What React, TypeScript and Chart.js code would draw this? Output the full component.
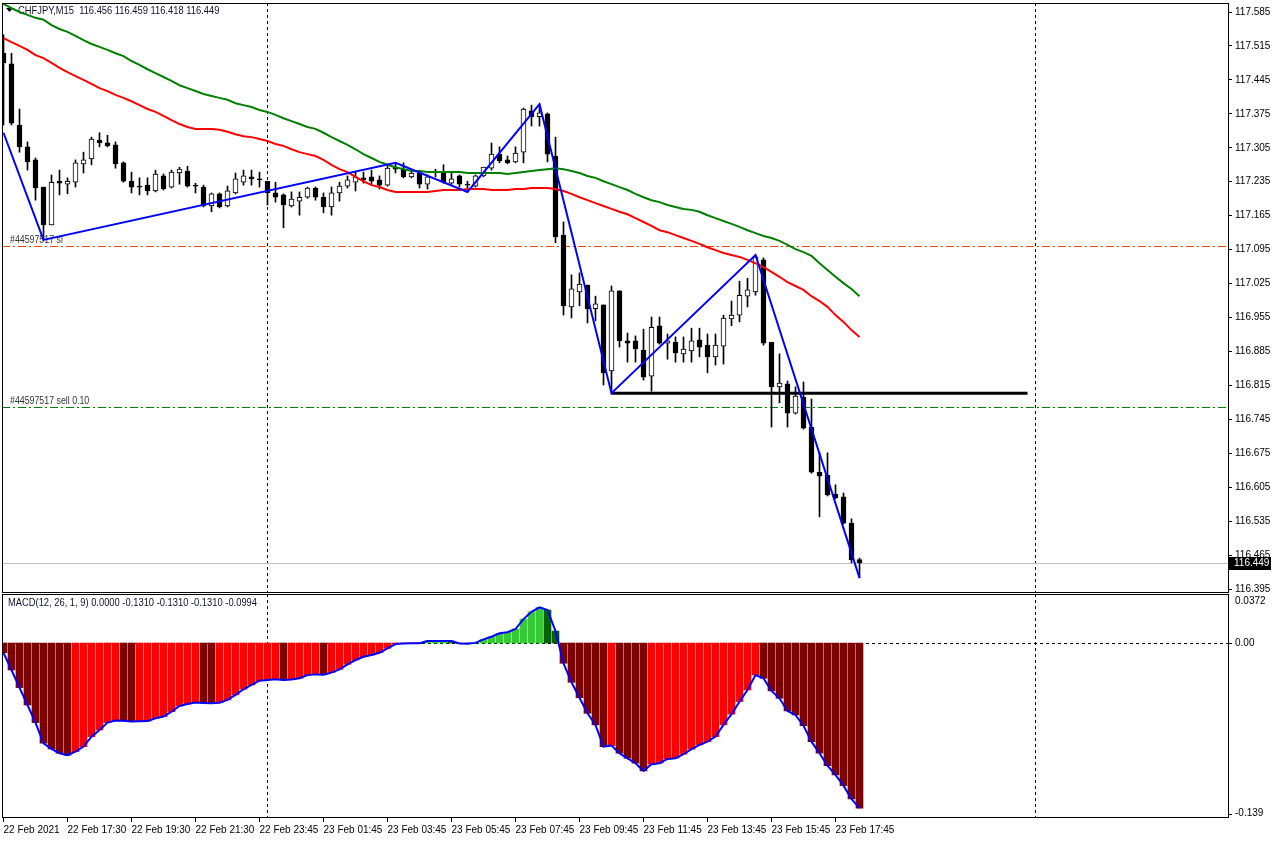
import React, { useEffect, useRef } from 'react';
import { Chart, registerables } from 'chart.js';

Chart.register(...registerables);

const FONT = "'Liberation Sans', Arial, sans-serif";

// ---- Candles (CHFJPY, M15) ----
const opens = [
  117.500, 117.478, 117.352, 117.307, 117.280, 117.224, 117.146, 117.236, 117.230, 117.234,
  117.272, 117.282, 117.321, 117.315, 117.311, 117.274, 117.236, 117.226, 117.228, 117.216,
  117.247, 117.224, 117.253, 117.257, 117.228, 117.224, 117.185, 117.210, 117.185, 117.212,
  117.234, 117.245, 117.241, 117.236, 117.212, 117.208, 117.185, 117.195, 117.203, 117.222,
  117.203, 117.183, 117.212, 117.226, 117.234, 117.243, 117.245, 117.239, 117.228, 117.265,
  117.261, 117.245, 117.253, 117.230, 117.253, 117.253, 117.232, 117.247, 117.229, 117.226,
  117.247, 117.263, 117.292, 117.280, 117.276, 117.296, 117.381, 117.369, 117.375, 117.288,
  117.125, 116.977, 117.008, 117.022, 116.973, 116.981, 116.845, 117.010, 116.907, 116.907,
  116.888, 116.834, 116.938, 116.902, 116.904, 116.880, 116.886, 116.909, 116.898, 116.874,
  116.896, 116.952, 116.960, 116.999, 117.008, 117.074, 116.904, 116.812, 116.818, 116.758,
  116.791, 116.729, 116.636, 116.630, 116.591, 116.585, 116.531, 116.456,
];
const highs = [
  117.538, 117.500, 117.385, 117.317, 117.284, 117.224, 117.249, 117.259, 117.243, 117.280,
  117.296, 117.327, 117.336, 117.331, 117.317, 117.276, 117.255, 117.243, 117.243, 117.259,
  117.251, 117.259, 117.265, 117.267, 117.232, 117.228, 117.212, 117.212, 117.226, 117.253,
  117.259, 117.259, 117.255, 117.236, 117.234, 117.210, 117.214, 117.214, 117.224, 117.224,
  117.212, 117.224, 117.234, 117.247, 117.255, 117.255, 117.259, 117.247, 117.267, 117.274,
  117.274, 117.259, 117.255, 117.249, 117.261, 117.270, 117.253, 117.249, 117.236, 117.249,
  117.265, 117.315, 117.307, 117.288, 117.307, 117.387, 117.393, 117.395, 117.377, 117.327,
  117.152, 117.043, 117.047, 117.022, 116.999, 116.981, 117.020, 117.010, 116.923, 116.917,
  116.931, 116.956, 116.956, 116.921, 116.915, 116.915, 116.933, 116.933, 116.921, 116.921,
  116.960, 116.989, 117.030, 117.036, 117.084, 117.078, 116.904, 116.880, 116.824, 116.812,
  116.822, 116.787, 116.676, 116.676, 116.610, 116.593, 116.540, 116.459,
];
const lows = [
  117.352, 117.352, 117.296, 117.259, 117.197, 117.115, 117.146, 117.208, 117.210, 117.224,
  117.253, 117.270, 117.307, 117.307, 117.263, 117.234, 117.212, 117.208, 117.208, 117.214,
  117.218, 117.222, 117.230, 117.224, 117.212, 117.183, 117.173, 117.181, 117.183, 117.210,
  117.228, 117.228, 117.224, 117.187, 117.193, 117.140, 117.183, 117.166, 117.201, 117.197,
  117.171, 117.166, 117.195, 117.222, 117.216, 117.232, 117.228, 117.220, 117.226, 117.253,
  117.243, 117.243, 117.222, 117.220, 117.245, 117.232, 117.230, 117.224, 117.214, 117.224,
  117.245, 117.259, 117.274, 117.272, 117.274, 117.274, 117.350, 117.350, 117.276, 117.109,
  116.960, 116.954, 116.979, 116.944, 116.948, 116.816, 116.799, 116.894, 116.863, 116.863,
  116.826, 116.803, 116.900, 116.869, 116.863, 116.863, 116.863, 116.874, 116.841, 116.857,
  116.859, 116.938, 116.946, 116.977, 117.001, 116.898, 116.729, 116.779, 116.729, 116.756,
  116.725, 116.634, 116.544, 116.587, 116.581, 116.529, 116.449, 116.418,
];
const closes = [
  117.480, 117.356, 117.307, 117.276, 117.222, 117.146, 117.234, 117.232, 117.236, 117.274,
  117.280, 117.323, 117.315, 117.309, 117.272, 117.236, 117.224, 117.224, 117.216, 117.251,
  117.220, 117.255, 117.261, 117.226, 117.226, 117.185, 117.210, 117.183, 117.216, 117.241,
  117.247, 117.241, 117.239, 117.212, 117.203, 117.187, 117.199, 117.203, 117.222, 117.203,
  117.183, 117.212, 117.226, 117.239, 117.245, 117.239, 117.236, 117.228, 117.263, 117.261,
  117.245, 117.253, 117.230, 117.245, 117.257, 117.234, 117.241, 117.230, 117.228, 117.247,
  117.265, 117.292, 117.278, 117.274, 117.294, 117.385, 117.369, 117.377, 117.292, 117.121,
  116.979, 117.014, 117.024, 116.973, 116.983, 116.841, 117.010, 116.907, 116.902, 116.890,
  116.832, 116.935, 116.902, 116.907, 116.882, 116.890, 116.907, 116.894, 116.874, 116.898,
  116.954, 116.960, 117.001, 117.012, 117.080, 116.902, 116.812, 116.820, 116.758, 116.793,
  116.727, 116.636, 116.628, 116.589, 116.583, 116.531, 116.455, 116.449,
];

// ---- Moving averages ----
const maGreen = [
  117.602, 117.593, 117.585, 117.579, 117.573, 117.569, 117.558, 117.550, 117.544, 117.536,
  117.527, 117.519, 117.513, 117.507, 117.500, 117.494, 117.484, 117.476, 117.467, 117.459,
  117.451, 117.443, 117.434, 117.428, 117.422, 117.416, 117.412, 117.408, 117.404, 117.397,
  117.393, 117.389, 117.383, 117.379, 117.373, 117.366, 117.360, 117.354, 117.348, 117.344,
  117.336, 117.327, 117.319, 117.311, 117.302, 117.292, 117.284, 117.276, 117.270, 117.265,
  117.261, 117.257, 117.257, 117.255, 117.255, 117.255, 117.255, 117.255, 117.253, 117.253,
  117.253, 117.253, 117.253, 117.251, 117.253, 117.255, 117.257, 117.259, 117.261, 117.263,
  117.261, 117.257, 117.253, 117.247, 117.243, 117.236, 117.230, 117.224, 117.218, 117.210,
  117.203, 117.197, 117.193, 117.187, 117.183, 117.179, 117.177, 117.173, 117.166, 117.160,
  117.154, 117.148, 117.142, 117.135, 117.129, 117.123, 117.119, 117.113, 117.105, 117.096,
  117.090, 117.082, 117.067, 117.053, 117.039, 117.026, 117.014, 116.999,
];
const maRed = [
  117.531, 117.523, 117.515, 117.507, 117.496, 117.490, 117.480, 117.470, 117.461, 117.453,
  117.445, 117.437, 117.428, 117.422, 117.414, 117.408, 117.401, 117.393, 117.385, 117.379,
  117.371, 117.362, 117.354, 117.348, 117.344, 117.344, 117.344, 117.342, 117.338, 117.333,
  117.329, 117.327, 117.323, 117.319, 117.313, 117.309, 117.302, 117.296, 117.292, 117.288,
  117.280, 117.270, 117.261, 117.255, 117.245, 117.236, 117.228, 117.224, 117.218, 117.214,
  117.214, 117.214, 117.214, 117.214, 117.216, 117.218, 117.218, 117.218, 117.220, 117.220,
  117.220, 117.218, 117.218, 117.218, 117.220, 117.220, 117.222, 117.222, 117.222, 117.220,
  117.216, 117.210, 117.203, 117.197, 117.191, 117.185, 117.179, 117.173, 117.168, 117.160,
  117.152, 117.144, 117.135, 117.131, 117.125, 117.119, 117.113, 117.107, 117.100, 117.094,
  117.088, 117.084, 117.080, 117.074, 117.067, 117.059, 117.049, 117.039, 117.028, 117.020,
  117.012, 116.999, 116.989, 116.977, 116.960, 116.946, 116.929, 116.915,
];

// ---- ZigZag & objects ----
const zigzagIdx = [0, 5, 49, 58, 67, 76, 94, 107];
const zigzagVal = [117.336, 117.115, 117.274, 117.214, 117.395, 116.799, 117.084, 116.418];
const trendIdx = [76, 128];
const trendVal = [116.799, 116.799];
const slPrice = 117.103;
const sellPrice = 116.770;
const bidPrice = 116.449;
const separatorIdx = [33, 129];

const priceTicks = [
  117.585, 117.515, 117.445, 117.375, 117.305, 117.235, 117.165, 117.095, 117.025,
  116.955, 116.885, 116.815, 116.745, 116.675, 116.605, 116.535, 116.465, 116.395,
];

// ---- MACD ----
const macd = [
  -0.0077, -0.0214, -0.0354, -0.0492, -0.0632, -0.0796, -0.0840, -0.0875, -0.0890, -0.0862,
  -0.0822, -0.0743, -0.0690, -0.0632, -0.0616, -0.0618, -0.0624, -0.0622, -0.0620, -0.0597,
  -0.0584, -0.0545, -0.0500, -0.0484, -0.0473, -0.0476, -0.0478, -0.0474, -0.0452, -0.0412,
  -0.0367, -0.0333, -0.0299, -0.0293, -0.0288, -0.0293, -0.0290, -0.0280, -0.0254, -0.0249,
  -0.0251, -0.0235, -0.0209, -0.0169, -0.0135, -0.0109, -0.0095, -0.0077, -0.0042, -0.0008,
  -0.0003, -0.0002, -0.0001, 0.0016, 0.0016, 0.0016, 0.0015, -0.0003, -0.0005, 0.0001,
  0.0029, 0.0050, 0.0077, 0.0085, 0.0111, 0.0190, 0.0248, 0.0283, 0.0262, 0.0095,
  -0.0161, -0.0312, -0.0434, -0.0558, -0.0650, -0.0822, -0.0814, -0.0875, -0.0915, -0.0954,
  -0.1015, -0.0962, -0.0954, -0.0920, -0.0915, -0.0883, -0.0843, -0.0809, -0.0783, -0.0743,
  -0.0650, -0.0565, -0.0465, -0.0373, -0.0254, -0.0280, -0.0380, -0.0439, -0.0539, -0.0571,
  -0.0656, -0.0783, -0.0875, -0.0973, -0.1047, -0.1132, -0.1237, -0.1310,
];
const macdTicks = [0.0372, 0, -0.139];
const macdTickLabels = ['0.0372', '0.00', '-0.139'];

// ---- Time axis ----
const timeTickIdx = [0, 8, 16, 24, 32, 40, 48, 56, 64, 72, 80, 88, 96, 104];
const timeLabels = [
  '22 Feb 2021', '22 Feb 17:30', '22 Feb 19:30', '22 Feb 21:30', '22 Feb 23:45',
  '23 Feb 01:45', '23 Feb 03:45', '23 Feb 05:45', '23 Feb 07:45', '23 Feb 09:45',
  '23 Feb 11:45', '23 Feb 13:45', '23 Feb 15:45', '23 Feb 17:45',
];

const titleText = 'CHFJPY,M15  116.456 116.459 116.418 116.449';
const macdTitle = 'MACD(12, 26, 1, 9) 0.0000 -0.1310 -0.1310 -0.1310 -0.0994';

const X_MIN = -0.1875;
const X_MAX = 153.0625;
const Y_MIN = 116.3869;
const Y_MAX = 117.6036;
const M_MIN = -0.1389;
const M_MAX = 0.0389;

function drawSeparators(chart: any) {
  const { ctx, chartArea: a, scales } = chart;
  ctx.save();
  ctx.strokeStyle = '#000';
  ctx.lineWidth = 1;
  ctx.setLineDash([3, 3]);
  separatorIdx.forEach((i) => {
    const px = Math.floor(scales.x.getPixelForValue(i)) + 0.5;
    ctx.beginPath();
    ctx.moveTo(px, a.top);
    ctx.lineTo(px, a.bottom);
    ctx.stroke();
  });
  ctx.restore();
}

function drawFrame(chart: any) {
  const { ctx, chartArea: a } = chart;
  ctx.save();
  ctx.strokeStyle = '#000';
  ctx.lineWidth = 1;
  ctx.setLineDash([]);
  ctx.strokeRect(a.left + 0.5, a.top + 0.5, a.right - a.left, a.bottom - a.top - 1);
  ctx.restore();
}

function condensedText(ctx: any, text: string, x: number, y: number, sx: number) {
  ctx.save();
  ctx.translate(x, y);
  ctx.scale(sx, 1);
  ctx.fillText(text, 0, 0);
  ctx.restore();
}

const topPlugin = {
  id: 'topDecor',
  beforeDatasetsDraw(chart: any) {
    const { ctx, chartArea: a, scales } = chart;
    const y = scales.y;
    drawSeparators(chart);
    ctx.save();
    ctx.beginPath();
    ctx.rect(a.left, a.top, a.right - a.left, a.bottom - a.top);
    ctx.clip();
    const hline = (p: number, color: string, dash: number[]) => {
      const py = Math.round(y.getPixelForValue(p)) + 0.5;
      ctx.strokeStyle = color;
      ctx.lineWidth = 1;
      ctx.setLineDash(dash);
      ctx.beginPath();
      ctx.moveTo(a.left, py);
      ctx.lineTo(a.right, py);
      ctx.stroke();
      return py;
    };
    hline(bidPrice, '#C0C0C0', []);
    const slY = hline(slPrice, '#FF4500', [8, 3, 2, 3]);
    const sellY = hline(sellPrice, '#008000', [8, 3, 2, 3]);
    ctx.setLineDash([]);
    ctx.fillStyle = '#333333';
    ctx.font = `10px ${FONT}`;
    ctx.textAlign = 'left';
    ctx.textBaseline = 'bottom';
    condensedText(ctx, '#44597517 sl', 10, slY - 1, 0.88);
    condensedText(ctx, '#44597517 sell 0.10', 10, sellY - 1, 0.88);
    // title
    ctx.fillStyle = '#000';
    ctx.beginPath();
    ctx.moveTo(6, 8);
    ctx.lineTo(13, 8);
    ctx.lineTo(9.5, 12);
    ctx.closePath();
    ctx.fill();
    ctx.fillStyle = '#101030';
    ctx.font = `11px ${FONT}`;
    ctx.textBaseline = 'middle';
    condensedText(ctx, titleText, 18, 11, 0.85);
    ctx.restore();
  },
  afterDraw(chart: any) {
    const { ctx, chartArea: a, scales } = chart;
    drawFrame(chart);
    const py = Math.round(scales.y.getPixelForValue(bidPrice));
    ctx.save();
    ctx.fillStyle = '#000';
    ctx.fillRect(a.right + 1, py - 6, 42, 13);
    ctx.fillStyle = '#fff';
    ctx.font = `10px ${FONT}`;
    ctx.textAlign = 'left';
    ctx.textBaseline = 'middle';
    ctx.fillText(bidPrice.toFixed(3), a.right + 6, py + 0.5);
    ctx.restore();
  },
};

const macdPlugin = {
  id: 'macdDecor',
  beforeDatasetsDraw(chart: any) {
    const { ctx, chartArea: a, scales } = chart;
    drawSeparators(chart);
    const y0 = Math.round(scales.y.getPixelForValue(0)) + 0.5;
    ctx.save();
    ctx.strokeStyle = '#000';
    ctx.lineWidth = 1;
    ctx.setLineDash([3, 3]);
    ctx.beginPath();
    ctx.moveTo(a.left, y0);
    ctx.lineTo(a.right, y0);
    ctx.stroke();
    ctx.restore();
  },
  afterDraw(chart: any) {
    const { ctx, chartArea: a, scales } = chart;
    drawFrame(chart);
    ctx.save();
    ctx.fillStyle = '#000';
    ctx.strokeStyle = '#000';
    ctx.font = `10px ${FONT}`;
    ctx.textAlign = 'left';
    const lx = a.right + 7;
    macdTicks.forEach((v, k) => {
      let ty = scales.y.getPixelForValue(v);
      if (k === 0) {
        ctx.textBaseline = 'top';
        ty = a.top + 2;
      } else if (k === macdTicks.length - 1) {
        ctx.textBaseline = 'bottom';
        ty = a.bottom;
        ctx.beginPath();
        ctx.moveTo(a.right, a.bottom - 3.5);
        ctx.lineTo(a.right + 4, a.bottom - 3.5);
        ctx.stroke();
      } else {
        ctx.textBaseline = 'middle';
        ctx.beginPath();
        ctx.moveTo(a.right, Math.round(ty) + 0.5);
        ctx.lineTo(a.right + 4, Math.round(ty) + 0.5);
        ctx.stroke();
      }
      ctx.fillText(macdTickLabels[k], lx, ty);
    });
    ctx.fillStyle = '#101030';
    ctx.font = `11px ${FONT}`;
    ctx.textBaseline = 'middle';
    condensedText(ctx, macdTitle, 8, a.top + 9, 0.85);
    ctx.restore();
  },
};

export default function App() {
  const topRef = useRef<HTMLCanvasElement>(null);
  const botRef = useRef<HTMLCanvasElement>(null);

  useEffect(() => {
    const idx = opens.map((_, i) => i);
    const bodyColors = idx.map((i) => (closes[i] >= opens[i] ? '#FFFFFF' : '#000000'));
    const histColors = macd.map((v, i) => {
      const prev = i > 0 ? macd[i - 1] : 0;
      if (v >= 0) return v >= prev ? '#32CD32' : '#006400';
      return v < prev ? '#800000' : '#FF0000';
    });

    const top = new Chart(topRef.current as HTMLCanvasElement, {
      type: 'bar',
      data: {
        datasets: [
          {
            type: 'line',
            data: zigzagIdx.map((x, k) => ({ x, y: zigzagVal[k] })),
            borderColor: '#0000FF',
            borderWidth: 2,
            pointRadius: 0,
            tension: 0,
            order: 0,
          } as any,
          {
            type: 'line',
            data: trendIdx.map((x, k) => ({ x, y: trendVal[k] })),
            borderColor: '#000000',
            borderWidth: 3,
            pointRadius: 0,
            order: 0,
          } as any,
          {
            type: 'line',
            data: maGreen.map((y, i) => ({ x: i, y })),
            borderColor: '#008000',
            borderWidth: 2,
            pointRadius: 0,
            tension: 0,
            order: 1,
          } as any,
          {
            type: 'line',
            data: maRed.map((y, i) => ({ x: i, y })),
            borderColor: '#FF0000',
            borderWidth: 2,
            pointRadius: 0,
            tension: 0,
            order: 1,
          } as any,
          {
            type: 'bar',
            data: idx.map((i) => ({ x: i, y: [opens[i], closes[i]] })),
            backgroundColor: bodyColors,
            borderColor: '#000000',
            borderWidth: 1,
            borderSkipped: false,
            barThickness: 5,
            minBarLength: 1,
            grouped: false,
            order: 2,
          } as any,
          {
            type: 'bar',
            data: idx.map((i) => ({ x: i, y: [lows[i], highs[i]] })),
            backgroundColor: '#000000',
            borderWidth: 0,
            barThickness: 1,
            grouped: false,
            order: 3,
          } as any,
        ],
      },
      options: {
        responsive: false,
        animation: false,
        devicePixelRatio: 1,
        events: [],
        layout: { autoPadding: false, padding: { left: 2, top: 3, right: 0, bottom: 1 } },
        plugins: { legend: { display: false }, tooltip: { enabled: false } },
        scales: {
          x: { type: 'linear', min: X_MIN, max: X_MAX, offset: false, display: false },
          y: {
            type: 'linear',
            position: 'right',
            min: Y_MIN,
            max: Y_MAX,
            afterBuildTicks: (s: any) => {
              s.ticks = priceTicks.map((v) => ({ value: v }));
            },
            afterFit: (s: any) => {
              s.width = 48;
              s.paddingTop = 0;
              s.paddingBottom = 0;
            },
            ticks: {
              callback: (v: any) => Number(v).toFixed(3),
              autoSkip: false,
              color: '#000',
              padding: 3,
              font: { family: FONT, size: 10 },
            },
            grid: { drawOnChartArea: false, drawTicks: true, tickLength: 4, color: '#000' },
            border: { display: false },
          },
        },
      } as any,
      plugins: [topPlugin],
    });

    const bot = new Chart(botRef.current as HTMLCanvasElement, {
      type: 'bar',
      data: {
        datasets: [
          {
            type: 'line',
            data: macd.map((y, i) => ({ x: i, y })),
            borderColor: '#0000FF',
            borderWidth: 2,
            pointRadius: 0,
            tension: 0,
            order: 0,
          } as any,
          {
            type: 'bar',
            data: macd.map((y, i) => ({ x: i, y })),
            backgroundColor: histColors,
            borderWidth: 0,
            barThickness: 7,
            grouped: false,
            order: 1,
          } as any,
        ],
      },
      options: {
        responsive: false,
        animation: false,
        devicePixelRatio: 1,
        events: [],
        layout: { autoPadding: false, padding: { left: 2, top: 1, right: 0, bottom: 0 } },
        plugins: { legend: { display: false }, tooltip: { enabled: false } },
        scales: {
          x: {
            type: 'linear',
            min: X_MIN,
            max: X_MAX,
            offset: false,
            afterBuildTicks: (s: any) => {
              s.ticks = timeTickIdx.map((v) => ({ value: v }));
            },
            afterFit: (s: any) => {
              s.height = 23;
              s.paddingLeft = 0;
              s.paddingRight = 0;
            },
            ticks: {
              callback: (_v: any, i: number) => timeLabels[i],
              autoSkip: false,
              maxRotation: 0,
              minRotation: 0,
              align: 'start',
              color: '#000',
              padding: 2,
              font: { family: FONT, size: 10 },
            },
            grid: { drawOnChartArea: false, drawTicks: true, tickLength: 4, color: '#000', offset: false },
            border: { display: false },
          },
          y: {
            type: 'linear',
            position: 'right',
            min: M_MIN,
            max: M_MAX,
            afterFit: (s: any) => {
              s.width = 48;
              s.paddingTop = 0;
              s.paddingBottom = 0;
            },
            ticks: { display: false },
            grid: { display: false },
            border: { display: false },
          },
        },
      } as any,
      plugins: [macdPlugin],
    });

    return () => {
      top.destroy();
      bot.destroy();
    };
  }, []);

  return (
    <div style={{ position: 'absolute', left: 0, top: 0, width: 1276, height: 841, background: '#ffffff' }}>
      <canvas ref={topRef} width={1276} height={594} style={{ position: 'absolute', left: 0, top: 0 }} />
      <canvas ref={botRef} width={1276} height={248} style={{ position: 'absolute', left: 0, top: 593 }} />
    </div>
  );
}
